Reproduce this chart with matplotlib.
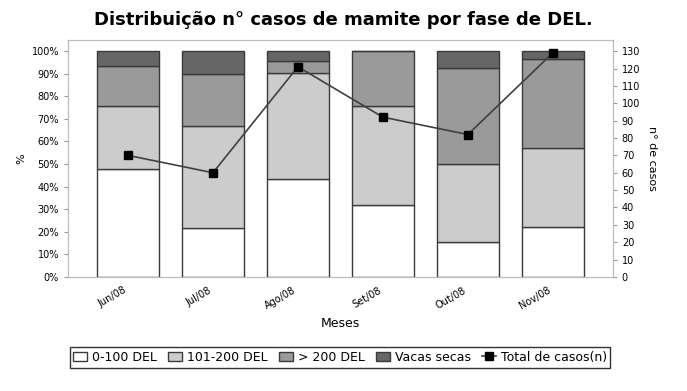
import numpy as np
import matplotlib.pyplot as plt
from matplotlib.ticker import PercentFormatter

meses = ["Jun/08", "Jul/08", "Ago/08", "Set/08", "Out/08", "Nov/08"]
del_0_100 = [48, 21.5, 43.5, 32, 15.5, 22]
del_101_200 = [27.5, 45.5, 47, 43.5, 34.5, 35]
del_200 = [18, 23, 5, 24.5, 42.5, 39.5]
vacas_secas = [6.5, 10, 4.5, 0, 7.5, 3.5]
total_casos = [70, 60, 121, 92, 82, 129]

cores = ["#ffffff", "#cccccc", "#9a9a9a", "#666666"]
nomes = ["0-100 DEL", "101-200 DEL", "> 200 DEL", "Vacas secas"]
series = [del_0_100, del_101_200, del_200, vacas_secas]

fig = plt.figure(figsize=(6.87, 3.91), dpi=100)
ax = fig.add_axes([0.099, 0.2916, 0.793, 0.6065])
x = np.arange(len(meses))

base = np.zeros(len(meses))
handles = []
for vals, cor, nome in zip(series, cores, nomes):
    b = ax.bar(x, vals, width=0.73, bottom=base, color=cor,
               edgecolor="#3a3a3a", linewidth=1, label=nome)
    handles.append(b)
    base += np.array(vals)

ax.set_xlim(-0.706, 5.706)
ax.set_ylim(0, 105)
ax.set_yticks(np.arange(0, 101, 10))
ax.yaxis.set_major_formatter(PercentFormatter(decimals=0))
ax.set_xticks(x)
ax.set_xticklabels(meses, rotation=30, ha="right", fontsize=7)
ax.tick_params(axis="y", labelsize=7, length=3, color="#999999")
ax.tick_params(axis="x", length=0, pad=6)
ax.set_ylabel("%", fontsize=8)
ax.set_xlabel("Meses", fontsize=9)
for s in ax.spines.values():
    s.set_color("#bbbbbb")

ax2 = ax.twinx()
linha, = ax2.plot(x, total_casos, color="#404040", linewidth=1.2,
                  marker="s", markersize=5.5, markerfacecolor="black",
                  markeredgecolor="black", label="Total de casos(n)")
ax2.set_ylim(0, 136.5)
ax2.set_yticks(np.arange(0, 131, 10))
ax2.tick_params(axis="y", labelsize=7, length=3, color="#999999")
ax2.set_ylabel("n° de casos", fontsize=8, rotation=270, labelpad=12)
for s in ax2.spines.values():
    s.set_color("#bbbbbb")

fig.suptitle("Distribuição n° casos de mamite por fase de DEL.",
             fontsize=13, fontweight="bold", x=0.5, y=0.972)

leg = fig.legend(handles + [linha], nomes + ["Total de casos(n)"],
                 loc="center", bbox_to_anchor=(0.495, 0.086), ncol=5,
                 fontsize=9, frameon=True, fancybox=False,
                 handlelength=1.1, handletextpad=0.4, columnspacing=0.9,
                 borderpad=0.3)
leg.get_frame().set_edgecolor("black")
leg.get_frame().set_linewidth(1)

fig.savefig("out.png", dpi=100)
